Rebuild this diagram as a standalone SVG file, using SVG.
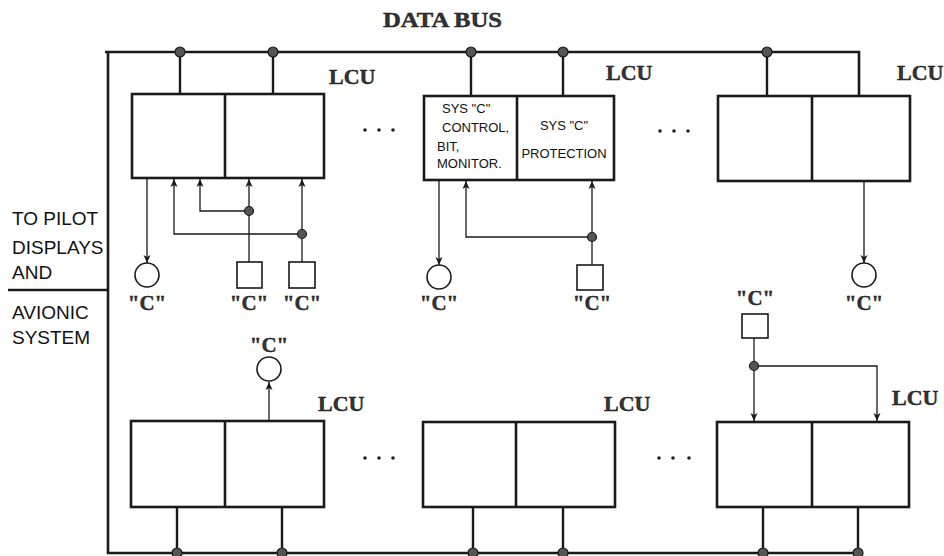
<svg xmlns="http://www.w3.org/2000/svg" width="944" height="556" viewBox="0 0 944 556">
<style>
.bus{stroke:#1a1a1a;stroke-width:2.6;fill:none}
.box{stroke:#1a1a1a;stroke-width:2.6;fill:#fff}
.ln{stroke:#1a1a1a;stroke-width:1.3;fill:none}
.stub{stroke:#1a1a1a;stroke-width:2.4;fill:none}
.dot{fill:#555;stroke:#1a1a1a;stroke-width:1.2}
.sym{fill:#fff;stroke:#1a1a1a;stroke-width:1.6}
.lcu{font-family:"Liberation Serif",serif;font-weight:bold;font-size:22px;fill:#333;stroke:#111;stroke-width:0.4}
.c{font-family:"Liberation Serif",serif;font-weight:bold;font-size:21px;fill:#333;stroke:#111;stroke-width:0.4;text-anchor:middle}
.sans{font-family:"Liberation Sans",sans-serif;fill:#111}
.in{font-family:"Liberation Sans",sans-serif;font-size:13px;fill:#111}
.ell{fill:#222}
</style>
<defs>
<marker id="ah" viewBox="0 0 8 8" refX="8" refY="4" markerWidth="8" markerHeight="8" markerUnits="userSpaceOnUse" orient="auto">
<path d="M0,0.5 L8,4 L0,7.5 L2,4 z" fill="#1a1a1a"/>
</marker>
</defs>

<text x="383" y="27" font-family="Liberation Serif, serif" font-weight="bold" font-size="21" fill="#333" stroke="#111" stroke-width="0.4" textLength="119" lengthAdjust="spacingAndGlyphs">DATA BUS</text>

<g id="buses">
<path class="bus" d="M105,52 H859 V96"/>
<path class="bus" d="M108,52 V553 H860"/>
<path class="bus" d="M8,290 H108"/>
</g>

<g id="left-label" class="sans" font-size="19">
<text x="12" y="225">TO PILOT</text>
<text x="12" y="254">DISPLAYS</text>
<text x="12" y="279">AND</text>
<text x="12" y="319">AVIONIC</text>
<text x="12" y="344">SYSTEM</text>
</g>

<g id="lcu-top-1">
<rect class="box" x="132" y="94" width="192" height="84"/>
<line class="box" x1="225" y1="94" x2="225" y2="178"/>
<text class="lcu" x="329" y="84">LCU</text>
</g>
<g id="lcu-top-2">
<rect class="box" x="424" y="96" width="190" height="84"/>
<line class="box" x1="517" y1="96" x2="517" y2="180"/>
<text class="in" x="442" y="113">SYS "C"</text>
<text class="in" x="442" y="132">CONTROL,</text>
<text class="in" x="437" y="151">BIT,</text>
<text class="in" x="437" y="168">MONITOR.</text>
<text class="in" x="564" y="130" text-anchor="middle">SYS "C"</text>
<text class="in" x="564" y="158" text-anchor="middle">PROTECTION</text>
<text class="lcu" x="606" y="80">LCU</text>
</g>
<g id="lcu-top-3">
<rect class="box" x="718" y="96" width="192" height="85"/>
<line class="box" x1="812" y1="96" x2="812" y2="181"/>
<text class="lcu" x="897" y="80">LCU</text>
</g>

<g id="lcu-bot-1">
<rect class="box" x="131" y="421" width="193" height="86"/>
<line class="box" x1="225" y1="421" x2="225" y2="507"/>
<text class="lcu" x="318" y="411">LCU</text>
</g>
<g id="lcu-bot-2">
<rect class="box" x="423" y="422" width="192" height="85"/>
<line class="box" x1="516" y1="422" x2="516" y2="507"/>
<text class="lcu" x="604" y="411">LCU</text>
</g>
<g id="lcu-bot-3">
<rect class="box" x="717" y="422" width="192" height="85"/>
<line class="box" x1="812" y1="422" x2="812" y2="507"/>
<text class="lcu" x="892" y="405">LCU</text>
</g>

<g id="ellipses" class="ell">
<circle cx="365" cy="130" r="1.8"/><circle cx="379" cy="130" r="1.8"/><circle cx="393" cy="130" r="1.8"/>
<circle cx="660" cy="131" r="1.8"/><circle cx="674" cy="131" r="1.8"/><circle cx="688" cy="131" r="1.8"/>
<circle cx="365" cy="458" r="1.8"/><circle cx="379" cy="458" r="1.8"/><circle cx="393" cy="458" r="1.8"/>
<circle cx="659" cy="458" r="1.8"/><circle cx="673" cy="458" r="1.8"/><circle cx="689" cy="458" r="1.8"/>
</g>

<g id="sensors">
<circle class="sym" cx="147" cy="275" r="12"/>
<rect class="sym" x="237" y="262" width="25" height="26"/>
<rect class="sym" x="289" y="262" width="26" height="26"/>
<circle class="sym" cx="439" cy="277" r="12"/>
<rect class="sym" x="577" y="265" width="26" height="25"/>
<circle class="sym" cx="864" cy="275" r="12"/>
<rect class="sym" x="742" y="314" width="26" height="24"/>
<circle class="sym" cx="269" cy="369" r="12"/>
<text class="c" x="147" y="310">"C"</text>
<text class="c" x="249" y="310">"C"</text>
<text class="c" x="302" y="310">"C"</text>
<text class="c" x="439" y="310">"C"</text>
<text class="c" x="592" y="310">"C"</text>
<text class="c" x="864" y="310">"C"</text>
<text class="c" x="755" y="305">"C"</text>
<text class="c" x="269" y="352">"C"</text>
</g>

<g id="connectors">
<path class="stub" d="M180,52 V94 M273,52 V94 M471,52 V96 M563,52 V96 M767,52 V96"/>
<path class="stub" d="M177,507 V553 M282,507 V553 M473,507 V553 M563,507 V553 M763,507 V553 M858,507 V553"/>
<path class="ln" d="M147,178 V263" marker-end="url(#ah)"/>
<path class="ln" d="M249,211 H200 V179" marker-end="url(#ah)"/>
<path class="ln" d="M249,262 V179" marker-end="url(#ah)"/>
<path class="ln" d="M302,234 H174 V179" marker-end="url(#ah)"/>
<path class="ln" d="M302,262 V179" marker-end="url(#ah)"/>
<path class="ln" d="M439,180 V265" marker-end="url(#ah)"/>
<path class="ln" d="M592,237 H466 V181" marker-end="url(#ah)"/>
<path class="ln" d="M592,265 V181" marker-end="url(#ah)"/>
<path class="ln" d="M864,181 V263" marker-end="url(#ah)"/>
<path class="ln" d="M269,421 V382" marker-end="url(#ah)"/>
<path class="ln" d="M754,338 V421" marker-end="url(#ah)"/>
<path class="ln" d="M754,366 H877 V421" marker-end="url(#ah)"/>
<circle class="dot" cx="180" cy="52" r="5"/>
<circle class="dot" cx="273" cy="52" r="5"/>
<circle class="dot" cx="471" cy="52" r="5"/>
<circle class="dot" cx="563" cy="52" r="5"/>
<circle class="dot" cx="767" cy="52" r="5"/>
<circle class="dot" cx="177" cy="553" r="5"/>
<circle class="dot" cx="282" cy="553" r="5"/>
<circle class="dot" cx="473" cy="553" r="5"/>
<circle class="dot" cx="563" cy="553" r="5"/>
<circle class="dot" cx="763" cy="553" r="5"/>
<circle class="dot" cx="858" cy="553" r="5"/>
<circle class="dot" cx="249" cy="211" r="4.5"/>
<circle class="dot" cx="302" cy="234" r="4.5"/>
<circle class="dot" cx="592" cy="237" r="4.5"/>
<circle class="dot" cx="754" cy="366" r="4.5"/>
</g>
</svg>
